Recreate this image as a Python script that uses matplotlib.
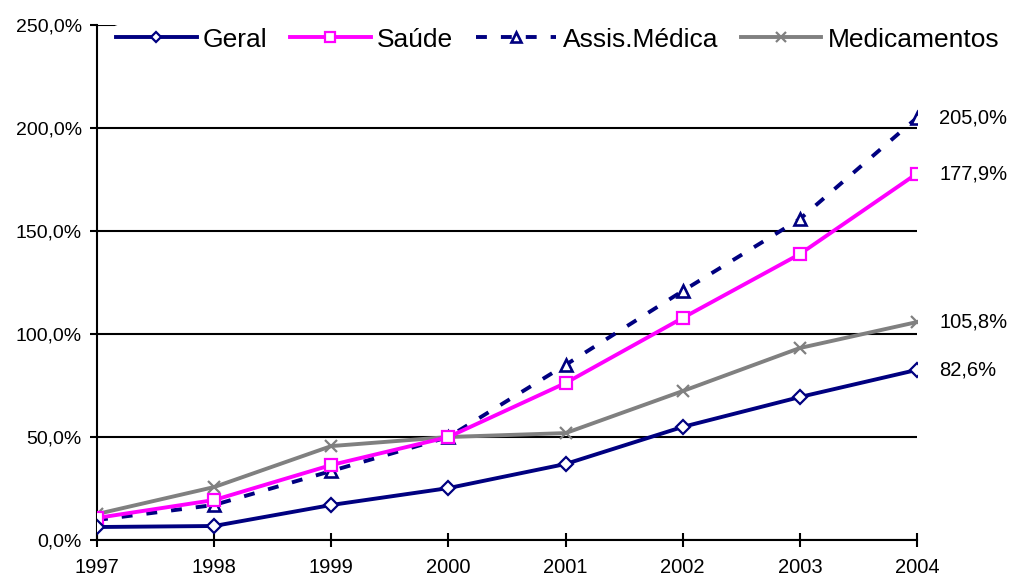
import numpy as np
import matplotlib.pyplot as plt
from matplotlib.ticker import FuncFormatter

plt.rcParams['font.family'] = ['Liberation Sans', 'DejaVu Sans']

# accumulated variation since 1997 (%)
anos = [1997, 1998, 1999, 2000, 2001, 2002, 2003, 2004]
geral = [6.3, 6.8, 17.0, 25.2, 36.9, 54.9, 69.4, 82.6]
saude = [10.7, 19.4, 36.4, 50.0, 76.2, 107.8, 138.8, 177.9]
assis_medica = [9.7, 17.0, 33.5, 50.0, 85.0, 120.9, 155.8, 205.0]
medicamentos = [12.6, 25.7, 45.6, 50.0, 51.9, 72.3, 93.2, 105.8]

navy = '#000080'
magenta = '#ff00ff'
cinza = '#808080'
lw = 2.8

fig = plt.figure(figsize=(10.14, 5.8), dpi=100)
ax = fig.add_axes([97 / 1014, 1 - 540 / 580, 820 / 1014, 515 / 580])

ax.plot(anos, geral, color=navy, lw=lw, marker='D', ms=7, mfc='white',
        mec=navy, mew=1.6, label='Geral', zorder=5)
ax.plot(anos, saude, color=magenta, lw=lw, marker='s', ms=9, mfc='white',
        mec=magenta, mew=1.6, label='Saúde', zorder=4)
ax.plot(anos, assis_medica, color=navy, lw=lw, ls=(0, (2.8, 3.6)), marker='^', ms=9,
        mfc='white', mec=navy, mew=1.9, label='Assis.Médica', zorder=3)
ax.plot(anos, medicamentos, color=cinza, lw=lw, marker='x', ms=9, mew=1.6,
        label='Medicamentos', zorder=2)

# final values next to the last point
for serie in (geral, saude, assis_medica, medicamentos):
    ax.annotate(f'{serie[-1]:.1f}%'.replace('.', ','), xy=(anos[-1], serie[-1]),
                xytext=(16, 0), textcoords='offset points', va='center',
                ha='left', fontsize=14.5, annotation_clip=False)

ax.set_xlim(1997, 2004)
ax.set_ylim(0, 250)
ax.set_xticks(anos)
ax.set_yticks(np.arange(0, 251, 50))
ax.yaxis.set_major_formatter(FuncFormatter(lambda v, p: f'{v:.1f}%'.replace('.', ',')))
ax.tick_params(axis='x', labelsize=14.5, direction='inout', length=10, width=1.5, pad=8)
ax.tick_params(axis='y', labelsize=14, direction='out', length=5, width=1.5, pad=6)

ax.grid(axis='y', color='black', lw=1.5)
ax.set_axisbelow(True)
for s in ('top', 'right'):
    ax.spines[s].set_visible(False)
for s in ('left', 'bottom'):
    ax.spines[s].set_linewidth(1.5)

leg = ax.legend(loc='upper left', bbox_to_anchor=(0.02, 1.0), ncol=4, frameon=True,
                fontsize=19, handlelength=3.05, handletextpad=0.25, columnspacing=0.85,
                markerscale=0.75, borderpad=0.1, borderaxespad=0)
leg.get_frame().set_facecolor('white')
leg.get_frame().set_edgecolor('white')
leg.get_frame().set_alpha(1)

fig.savefig('out.png', dpi=100)
